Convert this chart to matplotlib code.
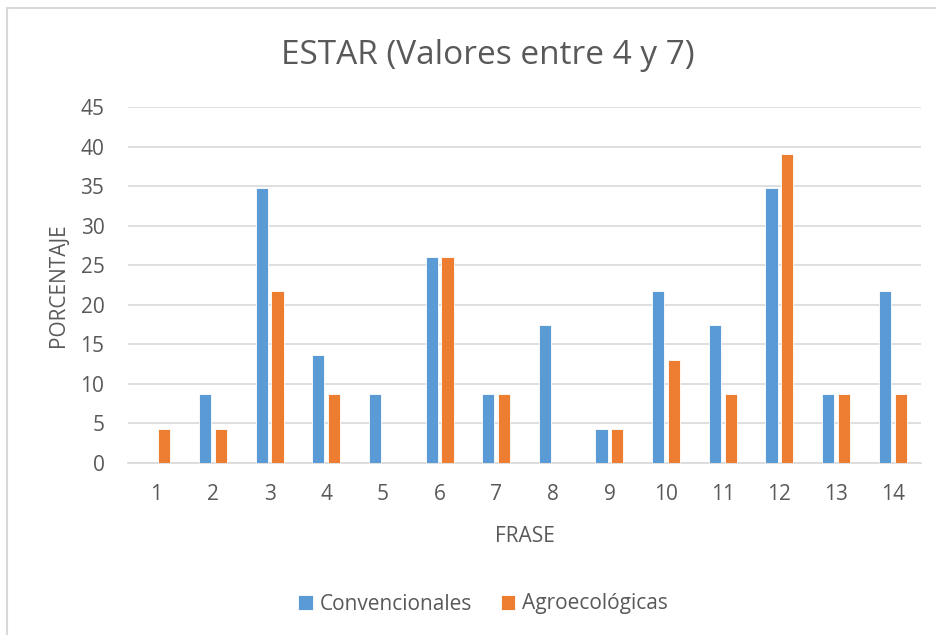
import matplotlib
matplotlib.use("Agg")
import matplotlib.pyplot as plt
from matplotlib.patches import Rectangle
import numpy as np

plt.rcParams['font.family'] = ['Open Sans', 'DejaVu Sans']

frases = [str(i) for i in range(1, 15)]
convencionales = [0, 8.7, 34.8, 13.6, 8.7, 26.1, 8.7, 17.4, 4.35, 21.7, 17.4, 34.8, 8.7, 21.7]
agroecologicas = [4.35, 4.35, 21.7, 8.7, 0, 26.1, 8.7, 0, 4.35, 13.0, 8.7, 39.1, 8.7, 8.7]

azul = '#5B9BD5'
naranja = '#ED7D31'
gris = '#595959'

fig = plt.figure(figsize=(9.36, 6.35), dpi=100)

# marco del grafico (se sale por la derecha y por abajo)
fig.patches.append(Rectangle((7 / 936, -0.1), 1.2, 1 - 8 / 635 + 0.1,
                             transform=fig.transFigure, fill=False,
                             edgecolor='#d9d9d9', linewidth=1.5))

ax = fig.add_axes([128 / 936, (635 - 463) / 635, (921 - 128) / 936, (463 - 107) / 635])

x = np.arange(1, len(frases) + 1)
ancho = 0.215
ax.bar(x - 0.14, convencionales, ancho, color=azul, edgecolor='white', linewidth=0.6,
       label='Convencionales', zorder=3)
ax.bar(x + 0.14, agroecologicas, ancho, color=naranja, edgecolor='white', linewidth=0.6,
       label='Agroecológicas', zorder=3)

ax.set_xlim(0.5, 14.5)
ax.set_ylim(0, 45)
ax.set_yticks(range(0, 46, 5))
ax.set_xticks(x)
ax.set_xticklabels(frases)
ax.yaxis.grid(True, color='#d9d9d9', linewidth=1.2, zorder=0)
ax.set_axisbelow(True)
for s in ['top', 'right', 'left']:
    ax.spines[s].set_visible(False)
ax.spines['bottom'].set_color('#d9d9d9')
ax.spines['bottom'].set_linewidth(1.2)
ax.tick_params(axis='both', length=0, labelsize=15, labelcolor=gris)
ax.tick_params(axis='x', pad=15)
ax.tick_params(axis='y', pad=17)

ax.set_xlabel('FRASE', fontsize=15, color=gris, labelpad=15)
ax.set_ylabel('PORCENTAJE', fontsize=15, color=gris, labelpad=8)

fig.text(488 / 936, (635 - 56) / 635, 'ESTAR (Valores entre 4 y 7)', fontsize=24,
         color=gris, ha='center', va='center')

leg = fig.legend(loc='center', bbox_to_anchor=(483 / 936, (635 - 604) / 635), ncol=2,
                 frameon=False, fontsize=15, handlelength=0.7, handleheight=0.7,
                 handletextpad=0.3, columnspacing=1.4)
for t in leg.get_texts():
    t.set_color(gris)

fig.savefig('out.png', dpi=100)
